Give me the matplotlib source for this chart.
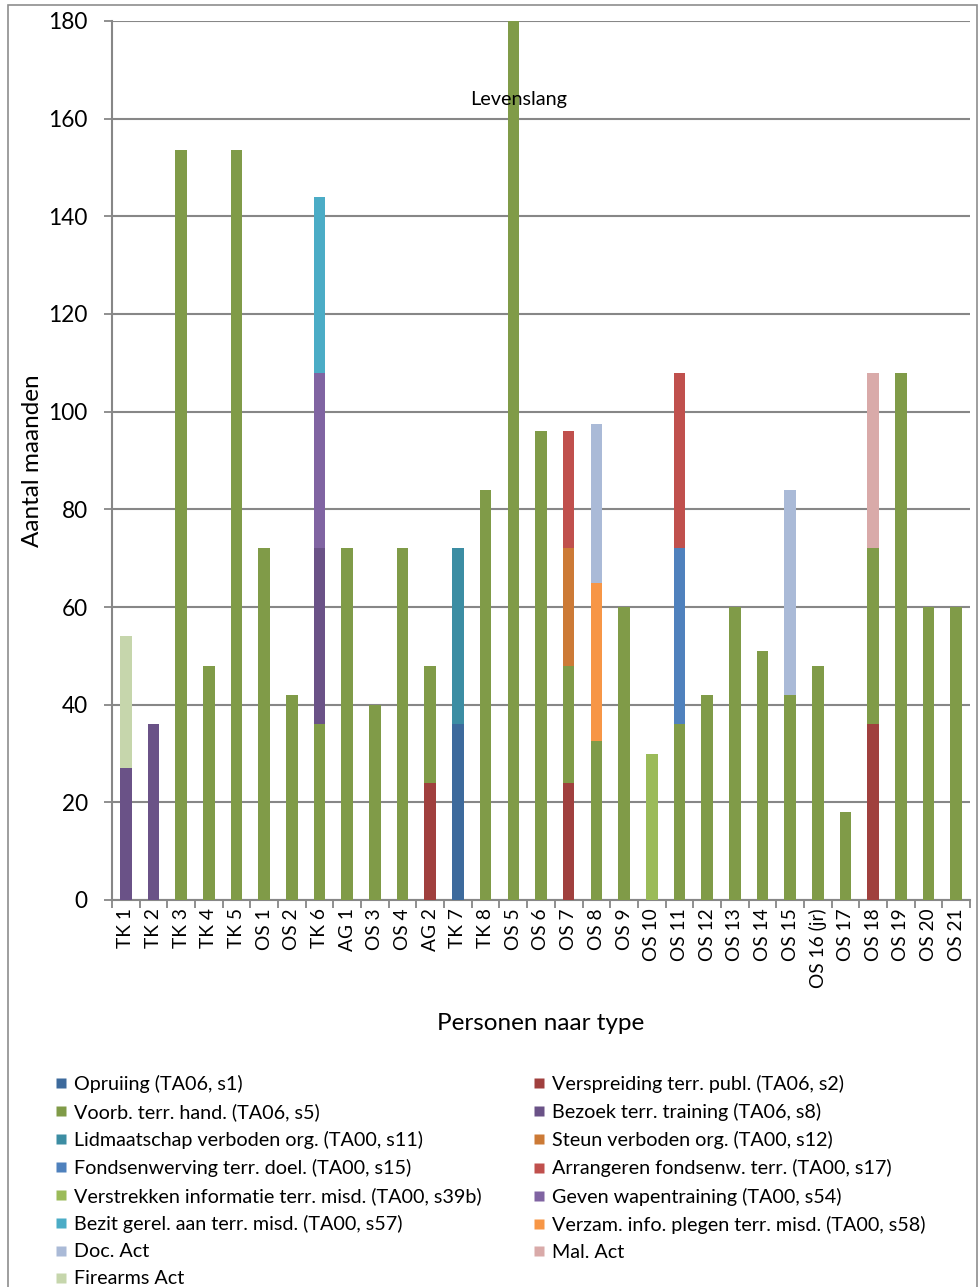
import matplotlib
matplotlib.use("Agg")
import matplotlib.pyplot as plt
from matplotlib.lines import Line2D
from matplotlib.patches import Rectangle
import numpy as np

plt.rcParams['font.family'] = ['Lato', 'DejaVu Sans']

categories = ["TK 1", "TK 2", "TK 3", "TK 4", "TK 5", "OS 1", "OS 2", "TK 6", "AG 1", "OS 3",
              "OS 4", "AG 2", "TK 7", "TK 8", "OS 5", "OS 6", "OS 7", "OS 8", "OS 9", "OS 10",
              "OS 11", "OS 12", "OS 13", "OS 14", "OS 15", "OS 16 (jr)", "OS 17", "OS 18",
              "OS 19", "OS 20", "OS 21"]

series_names = [
    "Opruiing (TA06, s1)",
    "Verspreiding terr. publ. (TA06, s2)",
    "Voorb. terr. hand. (TA06, s5)",
    "Bezoek terr. training (TA06, s8)",
    "Lidmaatschap verboden org. (TA00, s11)",
    "Steun verboden org. (TA00, s12)",
    "Fondsenwerving terr. doel. (TA00, s15)",
    "Arrangeren fondsenw. terr. (TA00, s17)",
    "Verstrekken informatie terr. misd. (TA00, s39b)",
    "Geven wapentraining (TA00, s54)",
    "Bezit gerel. aan terr. misd. (TA00, s57)",
    "Verzam. info. plegen terr. misd. (TA00, s58)",
    "Doc. Act",
    "Mal. Act",
    "Firearms Act",
]

series_colors = ["#3D6A9C", "#A0403E", "#809B48", "#6A5287", "#3C8DA3", "#CC7A36",
                 "#4F81BD", "#C0504D", "#9BBB59", "#8064A2", "#4BACC6", "#F79646",
                 "#AABAD7", "#D9AAA9", "#C6D6AC"]

#                     TK1 TK2 TK3    TK4 TK5    OS1 OS2 TK6 AG1 OS3 OS4 AG2 TK7 TK8 OS5  OS6 OS7 OS8   OS9 OS10 OS11 OS12 OS13 OS14 OS15 OS16 OS17 OS18 OS19 OS20 OS21
opruiing          = [0,  0,  0,     0,  0,     0,  0,  0,  0,  0,  0,  0,  36, 0,  0,   0,  0,  0,    0,  0,   0,   0,   0,   0,   0,   0,   0,   0,   0,   0,   0]
verspreiding      = [0,  0,  0,     0,  0,     0,  0,  0,  0,  0,  0,  24, 0,  0,  0,   0,  24, 0,    0,  0,   0,   0,   0,   0,   0,   0,   0,   36,  0,   0,   0]
voorbereiding     = [0,  0,  153.5, 48, 153.5, 72, 42, 36, 72, 40, 72, 24, 0,  84, 180, 96, 24, 32.5, 60, 0,   36,  42,  60,  51,  42,  48,  18,  36,  108, 60,  60]
bezoek_training   = [27, 36, 0,     0,  0,     0,  0,  36, 0,  0,  0,  0,  0,  0,  0,   0,  0,  0,    0,  0,   0,   0,   0,   0,   0,   0,   0,   0,   0,   0,   0]
lidmaatschap      = [0,  0,  0,     0,  0,     0,  0,  0,  0,  0,  0,  0,  36, 0,  0,   0,  0,  0,    0,  0,   0,   0,   0,   0,   0,   0,   0,   0,   0,   0,   0]
steun             = [0,  0,  0,     0,  0,     0,  0,  0,  0,  0,  0,  0,  0,  0,  0,   0,  24, 0,    0,  0,   0,   0,   0,   0,   0,   0,   0,   0,   0,   0,   0]
fondsenwerving    = [0,  0,  0,     0,  0,     0,  0,  0,  0,  0,  0,  0,  0,  0,  0,   0,  0,  0,    0,  0,   36,  0,   0,   0,   0,   0,   0,   0,   0,   0,   0]
arrangeren        = [0,  0,  0,     0,  0,     0,  0,  0,  0,  0,  0,  0,  0,  0,  0,   0,  24, 0,    0,  0,   36,  0,   0,   0,   0,   0,   0,   0,   0,   0,   0]
verstrekken_info  = [0,  0,  0,     0,  0,     0,  0,  0,  0,  0,  0,  0,  0,  0,  0,   0,  0,  0,    0,  30,  0,   0,   0,   0,   0,   0,   0,   0,   0,   0,   0]
geven_wapen       = [0,  0,  0,     0,  0,     0,  0,  36, 0,  0,  0,  0,  0,  0,  0,   0,  0,  0,    0,  0,   0,   0,   0,   0,   0,   0,   0,   0,   0,   0,   0]
bezit             = [0,  0,  0,     0,  0,     0,  0,  36, 0,  0,  0,  0,  0,  0,  0,   0,  0,  0,    0,  0,   0,   0,   0,   0,   0,   0,   0,   0,   0,   0,   0]
verzamelen_info   = [0,  0,  0,     0,  0,     0,  0,  0,  0,  0,  0,  0,  0,  0,  0,   0,  0,  32.5, 0,  0,   0,   0,   0,   0,   0,   0,   0,   0,   0,   0,   0]
doc_act           = [0,  0,  0,     0,  0,     0,  0,  0,  0,  0,  0,  0,  0,  0,  0,   0,  0,  32.5, 0,  0,   0,   0,   0,   0,   42,  0,   0,   0,   0,   0,   0]
mal_act           = [0,  0,  0,     0,  0,     0,  0,  0,  0,  0,  0,  0,  0,  0,  0,   0,  0,  0,    0,  0,   0,   0,   0,   0,   0,   0,   0,   36,  0,   0,   0]
firearms_act      = [27, 0,  0,     0,  0,     0,  0,  0,  0,  0,  0,  0,  0,  0,  0,   0,  0,  0,    0,  0,   0,   0,   0,   0,   0,   0,   0,   0,   0,   0,   0]

series_values = [opruiing, verspreiding, voorbereiding, bezoek_training, lidmaatschap, steun,
                 fondsenwerving, arrangeren, verstrekken_info, geven_wapen, bezit,
                 verzamelen_info, doc_act, mal_act, firearms_act]

yticks = [0, 20, 40, 60, 80, 100, 120, 140, 160, 180]

W, H = 979, 1287
fig = plt.figure(figsize=(W / 100, H / 100), dpi=100)
ax = fig.add_axes([112 / W, 1 - 900 / H, (970 - 112) / W, (900 - 21) / H])

x = np.arange(len(categories))
bottom = np.zeros(len(categories))
handles = []
for name, vals, col in zip(series_names, series_values, series_colors):
    v = np.array(vals, dtype=float)
    ax.bar(x, v, 0.42, bottom=bottom, color=col, edgecolor='none', zorder=3)
    bottom += v
    handles.append(Line2D([], [], marker='s', linestyle='none', markersize=7.5,
                          markerfacecolor=col, markeredgecolor='none'))

grid_col = '#878787'
ax.set_xlim(-0.5, len(categories) - 0.5)
ax.set_ylim(0, 180)
ax.set_yticks(yticks)
ax.yaxis.grid(True, color=grid_col, linewidth=1.5, zorder=1)
ax.set_axisbelow(True)
for s in ['top', 'right']:
    ax.spines[s].set_visible(False)
for s in ['left', 'bottom']:
    ax.spines[s].set_color(grid_col)
    ax.spines[s].set_linewidth(1.5)

ax.set_xticks(x)
ax.set_xticklabels(categories, rotation=90, fontsize=13.8)
ax.tick_params(axis='x', which='major', length=0, pad=6)
ax.set_xticks(np.arange(-0.5, len(categories), 1), minor=True)
ax.tick_params(axis='x', which='minor', length=6, width=1.3, color=grid_col, direction='out')
ax.tick_params(axis='y', which='major', length=6, width=1.3, color=grid_col, labelsize=16.3, pad=11.5)

ax.set_ylabel("Aantal maanden", fontsize=17.5, labelpad=4)
ax.set_xlabel("Personen naar type", fontsize=17.5, labelpad=18)

ax.text(14.2, 164, "Levenslang", ha='center', va='center', fontsize=14.3)

# Outer chart border
fig.patches.append(Rectangle((8 / W, -0.05), (977 - 8) / W, 1.05 - 5 / H,
                             transform=fig.transFigure, fill=False,
                             edgecolor='#8E8E8E', linewidth=1.2))

left_idx = list(range(0, 15, 2))
right_idx = list(range(1, 15, 2))
for idx, xpos in [(left_idx, 55 / W), (right_idx, 533 / W)]:
    fig.legend([handles[i] for i in idx], [series_names[i] for i in idx],
               loc='upper left', bbox_to_anchor=(xpos, 1 - 1075 / H),
               frameon=False, fontsize=14.2, handlelength=0.6, handletextpad=0.35,
               labelspacing=0.51, borderaxespad=0, borderpad=0)

fig.savefig("out.png", dpi=100)
